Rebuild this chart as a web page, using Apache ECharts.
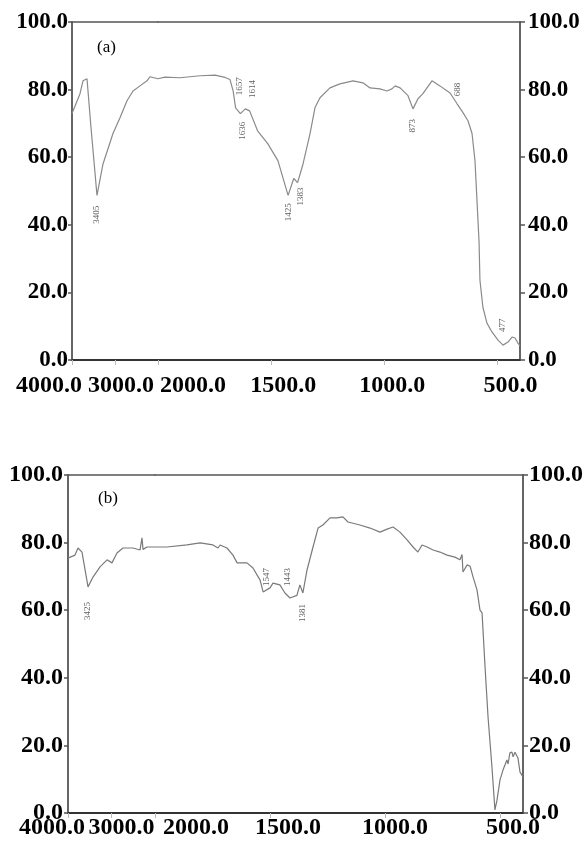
<!DOCTYPE html>
<html>
<head>
<meta charset="utf-8">
<script src="https://cdn.jsdelivr.net/npm/echarts@6/dist/echarts.min.js"></script>
<style>
html, body { margin: 0; padding: 0; background: #fff; }
#chart { width: 586px; height: 841px; }
</style>
</head>
<body>
<div id="chart"></div>
<script>
// spectrum (a): wavenumber (cm-1) / transmittance (%)
var waveA = [4000, 3814, 3744, 3698, 3651, 3560, 3480, 3419, 3279, 3047, 2884, 2721, 2581, 2419, 2256, 2187,
  2000, 1969, 1903, 1814, 1748, 1704, 1682, 1668, 1657, 1636, 1614, 1595, 1560, 1515, 1470, 1425, 1400, 1383,
  1359, 1328, 1306, 1284, 1240, 1196, 1138, 1094, 1063, 1019, 988, 966, 952, 930, 895, 873, 851, 829, 789, 754,
  709, 678, 652, 630, 612, 599, 590, 581, 577, 564, 546, 524, 497, 475, 453, 435, 422, 409, 400];
var transA = [72.9, 78.8, 82.6, 83, 83.2, 69, 57.5, 48.7, 58, 67, 71.7, 76.7, 79.6, 81.1, 82.6, 83.8,
  83.2, 83.7, 83.5, 84.1, 84.3, 83.6, 83, 79.6, 74.6, 72.9, 74.3, 73.7, 67.8, 64, 59, 48.7, 53.7, 52.5,
  58, 67, 74.7, 77.6, 80.5, 81.7, 82.6, 82, 80.5, 80.2, 79.6, 80.2, 81.1, 80.5, 78.2, 74.3, 77.3, 78.8, 82.6, 81.1,
  79, 75.8, 73.2, 70.8, 67, 59, 47, 35, 23.6, 15.6, 10.9, 8.3, 5.9, 4.4, 5.3, 6.8, 6.5, 5.0, 4.2];

// spectrum (b)
var waveB = [4000, 3839, 3770, 3678, 3540, 3425, 3264, 3103, 2989, 2874, 2736, 2506, 2345, 2299, 2276, 2184,
  2000, 1948, 1861, 1804, 1748, 1726, 1717, 1687, 1661, 1643, 1600, 1574, 1543, 1530, 1500, 1487, 1457, 1435,
  1413, 1383, 1370, 1357, 1339, 1313, 1291, 1270, 1239, 1209, 1183, 1161, 1109, 1065, 1022, 991, 965, 935, 904,
  878, 857, 839, 817, 791, 761, 730, 696, 674, 665, 661, 643, 630, 617, 600, 587, 578, 565, 552, 535, 522, 513,
  500, 487, 470, 465, 457, 448, 443, 435, 422, 413, 400];
var transB = [75.4, 76.3, 78.4, 77.2, 66.9, 69.8, 72.8, 74.9, 74, 76.9, 78.4, 78.4, 77.8, 81.4, 78, 78.7,
  78.7, 78.7, 79.3, 79.9, 79.3, 78.4, 79.3, 78.4, 76.3, 74, 74, 72.5, 68.9, 65.4, 66.6, 68, 67.5, 65.1,
  63.6, 64.4, 67.5, 65.1, 71.9, 78.7, 84.3, 85.2, 87.3, 87.3, 87.6, 86.1, 85.2, 84.3, 83.1, 84, 84.6, 83.1, 80.8,
  78.7, 77.2, 79.3, 78.7, 77.8, 77.2, 76.3, 75.7, 74.9, 76.5, 71.3, 73.4, 73, 69.8, 66, 60, 59.2, 43.2, 28.4, 13.6, 0.9, 3.8,
  9.8, 12.7, 15.7, 14.5, 17.8, 18, 16.6, 18, 16.3, 12.1, 10.7];

// peak annotations
var peakTextA = ['3405', '1657', '1614', '1636', '1425', '1383', '873', '688', '477'];
var peakWaveA = [3419, 1638, 1580, 1624, 1421, 1368, 873, 674, 475];
var peakYA = [43, 81, 80.2, 67.8, 43.7, 48.4, 69.3, 80, 10.3];
var peakTextB = ['3425', '1547', '1443', '1381'];
var peakWaveB = [3540, 1513, 1422, 1357];
var peakYB = [59.8, 69.8, 69.8, 59.2];

var yTicks = [0, 20, 40, 60, 80, 100];
var xTicksHigh = [4000, 3000];
var xTicksLow = [2000, 1500, 1000, 500];

var FONT = '"Liberation Serif", "Times New Roman", serif';
var chart = echarts.init(document.getElementById('chart'));

function pairs(w, t, test) {
  var out = [];
  for (var i = 0; i < w.length; i++) {
    if (test(w[i])) out.push([w[i], t[i]]);
  }
  return out;
}
function peaks(txt, w, y, test) {
  var out = [];
  for (var i = 0; i < txt.length; i++) {
    if (test(w[i])) out.push({ name: txt[i], value: [w[i], y[i]] });
  }
  return out;
}

// label nudges to follow the hand placed labels of the original figure
function xLabel(shift, size, margin) {
  var rich = {};
  Object.keys(shift).forEach(function (k) {
    var d = shift[k];
    rich['s' + k] = {
      fontFamily: FONT, fontWeight: 'bold', fontSize: size, color: '#000',
      padding: d >= 0 ? [0, 0, 0, 2 * d] : [0, -2 * d, 0, 0]
    };
  });
  return {
    show: true, margin: margin, fontFamily: FONT, fontWeight: 'bold', fontSize: size, color: '#000',
    formatter: function (v) { return '{s' + v + '|' + Number(v).toFixed(1) + '}'; },
    rich: rich
  };
}

function panel(o) {
  var g0 = o.idx * 2, g1 = g0 + 1;
  var grids = [
    { left: o.x0, top: o.top, width: o.xb - o.x0, height: o.h },
    { left: o.xb, top: o.top, width: o.x1 - o.xb, height: o.h }
  ];
  var xAxes = [
    {
      type: 'value', gridIndex: g0, min: 2000, max: 4000, inverse: true,
      axisLine: { show: true, lineStyle: { color: '#333', width: 2 } },
      axisTick: { show: true, inside: false, length: 5, customValues: xTicksHigh.concat([2000]), lineStyle: { color: '#bbb' } },
      axisLabel: Object.assign(xLabel(o.shiftHigh, 24, o.labelMargin), { customValues: xTicksHigh }),
      splitLine: { show: false }
    },
    {
      type: 'value', gridIndex: g1, min: 400, max: 2000, inverse: true,
      axisLine: { show: true, lineStyle: { color: '#333', width: 2 } },
      axisTick: { show: true, inside: false, length: 5, customValues: xTicksLow, lineStyle: { color: '#bbb' } },
      axisLabel: Object.assign(xLabel(o.shiftLow, 24, o.labelMargin), { customValues: xTicksLow }),
      splitLine: { show: false }
    },
    {
      type: 'value', gridIndex: g0, position: 'top', min: 2000, max: 4000,
      axisLine: { show: true, lineStyle: { color: '#555', width: 1.5 } },
      axisTick: { show: false }, axisLabel: { show: false }, splitLine: { show: false }
    },
    {
      type: 'value', gridIndex: g1, position: 'top', min: 400, max: 2000,
      axisLine: { show: true, lineStyle: { color: '#555', width: 1.5 } },
      axisTick: { show: false }, axisLabel: { show: false }, splitLine: { show: false }
    }
  ];
  var yLab = function (margin) {
    return {
      show: true, margin: margin, fontFamily: FONT, fontWeight: 'bold', fontSize: o.ySize, color: '#000',
      formatter: function (v) { return Number(v).toFixed(1); }
    };
  };
  var yAxes = [
    {
      type: 'value', gridIndex: g0, position: 'left', min: 0, max: 100, interval: 20,
      axisLine: { show: true, lineStyle: { color: '#666', width: 2 } },
      axisTick: { show: true, length: 4, lineStyle: { color: '#555', width: 1.5 } },
      axisLabel: yLab(o.yMarginL), splitLine: { show: false }
    },
    {
      type: 'value', gridIndex: g1, position: 'right', min: 0, max: 100, interval: 20,
      axisLine: { show: true, lineStyle: { color: '#666', width: 2 } },
      axisTick: { show: true, length: 5, lineStyle: { color: '#555', width: 1.5 } },
      axisLabel: yLab(o.yMarginR), splitLine: { show: false }
    }
  ];
  var xi = o.idx * 4;
  var lineStyle = { color: o.color, width: 1.2 };
  var peakLabel = {
    show: true, position: 'inside', rotate: 90, fontFamily: FONT, fontSize: 9, color: '#333',
    formatter: function (p) { return p.name; }
  };
  var series = [
    {
      type: 'line', xAxisIndex: xi, yAxisIndex: g0, showSymbol: false, silent: true,
      lineStyle: lineStyle, data: pairs(o.wave, o.trans, function (w) { return w >= 2000; })
    },
    {
      type: 'line', xAxisIndex: xi + 1, yAxisIndex: g1, showSymbol: false, silent: true,
      lineStyle: lineStyle, data: pairs(o.wave, o.trans, function (w) { return w <= 2000; })
    },
    {
      type: 'scatter', xAxisIndex: xi, yAxisIndex: g0, symbolSize: 1, itemStyle: { color: 'rgba(0,0,0,0)' },
      label: peakLabel, data: peaks(o.pText, o.pWave, o.pY, function (w) { return w > 2000; })
    },
    {
      type: 'scatter', xAxisIndex: xi + 1, yAxisIndex: g1, symbolSize: 1, itemStyle: { color: 'rgba(0,0,0,0)' },
      label: peakLabel, data: peaks(o.pText, o.pWave, o.pY, function (w) { return w <= 2000; })
    }
  ];
  return { grids: grids, xAxes: xAxes, yAxes: yAxes, series: series };
}

var pa = panel({
  idx: 0, x0: 72, xb: 158, x1: 520, top: 22, h: 338, color: '#8a8a8a',
  wave: waveA, trans: transA, pText: peakTextA, pWave: peakWaveA, pY: peakYA,
  shiftHigh: { 4000: -23, 3000: 6 }, shiftLow: { 2000: 35, 1500: 12, 1000: 8, 500: 13 },
  labelMargin: 14, ySize: 23, yMarginL: 4, yMarginR: 8
});
var pb = panel({
  idx: 1, x0: 68, xb: 155, x1: 523, top: 475, h: 338, color: '#7a7a7a',
  wave: waveB, trans: transB, pText: peakTextB, pWave: peakWaveB, pY: peakYB,
  shiftHigh: { 4000: -16, 3000: 10 }, shiftLow: { 2000: 41, 1500: 18, 1000: 10, 500: 13 },
  labelMargin: 3, ySize: 24, yMarginL: 5, yMarginR: 6
});

chart.setOption({
  animation: false,
  backgroundColor: '#fff',
  title: [
    { text: '(a)', left: 92, top: 34, textStyle: { fontFamily: FONT, fontWeight: 'normal', fontSize: 17, color: '#000' } },
    { text: '(b)', left: 93, top: 485, textStyle: { fontFamily: FONT, fontWeight: 'normal', fontSize: 17, color: '#000' } }
  ],
  grid: pa.grids.concat(pb.grids),
  xAxis: pa.xAxes.concat(pb.xAxes),
  yAxis: pa.yAxes.concat(pb.yAxes),
  series: pa.series.concat(pb.series)
});
</script>
</body>
</html>
